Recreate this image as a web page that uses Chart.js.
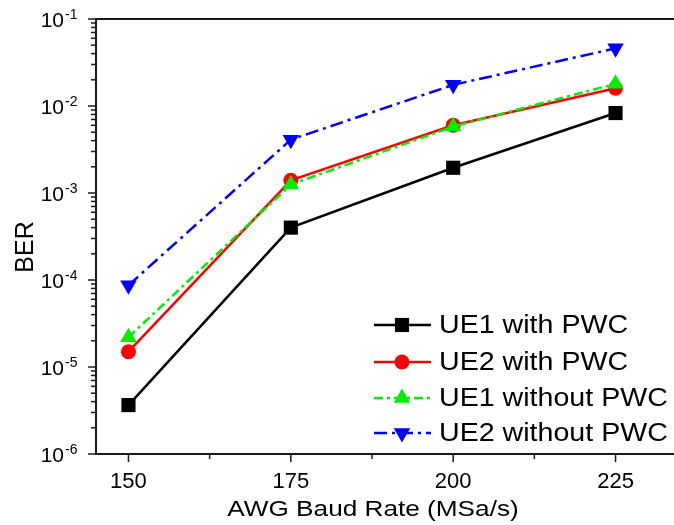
<!DOCTYPE html>
<html>
<head>
<meta charset="utf-8">
<script src="https://cdn.jsdelivr.net/npm/chart.js@4/dist/chart.umd.min.js"></script>
<style>
  html, body { margin: 0; padding: 0; background: #fff; }
</style>
</head>
<body>
<canvas id="berChart" width="674" height="525"></canvas>
<script>
// AWG baud rate (MSa/s) and BER values
const baudRates = [150, 175, 200, 225];
const ue1WithPwc = [3.65e-6, 4.0e-4, 1.95e-3, 8.3e-3];
const ue2WithPwc = [1.5e-5, 1.4e-3, 6.0e-3, 1.6e-2];
const ue1WithoutPwc = [2.2e-5, 1.25e-3, 5.8e-3, 1.8e-2];
const ue2WithoutPwc = [8.7e-5, 4.1e-3, 1.75e-2, 4.6e-2];
const seriesNames = ["UE1 with PWC", "UE2 with PWC", "UE1 without PWC", "UE2 without PWC"];
const xTickValues = [150, 175, 200, 225];
const xMinorValues = [162.5, 187.5, 212.5];
const yExponents = [-6, -5, -4, -3, -2, -1];

const FONT = '"Liberation Sans", Arial, Helvetica, sans-serif';
const AXIS = "#1a1a1a";

function pts(values) {
    return values.map((v, i) => ({ x: baudRates[i], y: v }));
}

const datasets = [
    { label: seriesNames[0], data: pts(ue1WithPwc), borderColor: "#000000", backgroundColor: "#000000",
      pointStyle: "rect", pointRadius: 10, borderDash: [], order: 4 },
    { label: seriesNames[1], data: pts(ue2WithPwc), borderColor: "#ff0000", backgroundColor: "#ff0000",
      pointStyle: "circle", pointRadius: 7.5, borderDash: [], order: 3 },
    { label: seriesNames[2], data: pts(ue1WithoutPwc), borderColor: "#00ee00", backgroundColor: "#00ee00",
      pointStyle: "triangle", pointRadius: 9.5, borderDash: [9, 4, 3, 4], order: 2 },
    { label: seriesNames[3], data: pts(ue2WithoutPwc), borderColor: "#0000ff", backgroundColor: "#0000ff",
      pointStyle: "triangle", pointRotation: 180, pointRadius: 9.5, borderDash: [13, 5, 3, 5], order: 1 }
].map(d => Object.assign({ borderWidth: 2.5, pointBorderWidth: 0, pointHoverRadius: d.pointRadius, tension: 0, clip: false }, d));

function drawMarker(ctx, style, x, y, r, rot) {
    ctx.beginPath();
    if (style === "rect") {
        const s = Math.SQRT1_2 * r;
        ctx.rect(x - s, y - s, 2 * s, 2 * s);
    } else if (style === "circle") {
        ctx.arc(x, y, r, 0, Math.PI * 2);
    } else {
        let a = (rot || 0) * Math.PI / 180;
        ctx.moveTo(x + Math.sin(a) * r, y - Math.cos(a) * r);
        a += 2 * Math.PI / 3;
        ctx.lineTo(x + Math.sin(a) * r, y - Math.cos(a) * r);
        a += 2 * Math.PI / 3;
        ctx.lineTo(x + Math.sin(a) * r, y - Math.cos(a) * r);
        ctx.closePath();
    }
    ctx.fill();
}

function scaledText(ctx, text, x, y, sx, align) {
    ctx.save();
    ctx.translate(x, y);
    ctx.scale(sx, 1);
    ctx.textAlign = align;
    ctx.fillText(text, 0, 0);
    ctx.restore();
}

const decorations = {
    id: "decorations",
    afterDraw(chart) {
        const { ctx, chartArea: area, scales: { x, y } } = chart;
        ctx.save();
        ctx.strokeStyle = AXIS;
        ctx.fillStyle = "#000";
        ctx.lineWidth = 2;

        // top frame
        ctx.beginPath();
        ctx.moveTo(area.left - 1, area.top);
        ctx.lineTo(area.right, area.top);
        ctx.stroke();

        // y ticks and labels
        ctx.lineWidth = 1.5;
        yExponents.forEach(p => {
            const py = y.getPixelForValue(Math.pow(10, p));
            ctx.beginPath();
            ctx.moveTo(area.left - 8, py);
            ctx.lineTo(area.left, py);
            ctx.stroke();
            if (p < -1) {
                for (let m = 2; m <= 9; m++) {
                    const my = y.getPixelForValue(m * Math.pow(10, p));
                    ctx.beginPath();
                    ctx.moveTo(area.left - 5, my);
                    ctx.lineTo(area.left, my);
                    ctx.stroke();
                }
            }
            ctx.textBaseline = "alphabetic";
            ctx.font = "21px " + FONT;
            ctx.textAlign = "right";
            ctx.fillText("10", 64, py + 7.5);
            ctx.font = "14px " + FONT;
            ctx.textAlign = "left";
            ctx.fillText(String(p), 65, py - 0.5);
        });

        // x ticks and labels
        xTickValues.forEach(v => {
            const px = x.getPixelForValue(v);
            ctx.beginPath();
            ctx.moveTo(px, area.bottom);
            ctx.lineTo(px, area.bottom + 8);
            ctx.stroke();
            ctx.font = "22px " + FONT;
            ctx.textAlign = "center";
            ctx.textBaseline = "alphabetic";
            ctx.fillText(String(v), px, 488);
        });
        xMinorValues.forEach(v => {
            const px = x.getPixelForValue(v);
            ctx.beginPath();
            ctx.moveTo(px, area.bottom);
            ctx.lineTo(px, area.bottom + 5);
            ctx.stroke();
        });

        // axis titles
        ctx.font = "22px " + FONT;
        ctx.textBaseline = "alphabetic";
        scaledText(ctx, "AWG Baud Rate (MSa/s)", 373, 516, 1.19, "center");
        ctx.save();
        ctx.translate(33, 247);
        ctx.rotate(-Math.PI / 2);
        ctx.font = "25px " + FONT;
        ctx.textAlign = "center";
        ctx.fillText("BER", 0, 0);
        ctx.restore();

        // legend
        const rows = [325, 362, 398, 433];
        chart.data.datasets.forEach((d, i) => {
            const ly = rows[i];
            ctx.strokeStyle = d.borderColor;
            ctx.lineWidth = 2.5;
            ctx.setLineDash(d.borderDash);
            ctx.beginPath();
            ctx.moveTo(374, ly);
            ctx.lineTo(431, ly);
            ctx.stroke();
            ctx.setLineDash([]);
            ctx.fillStyle = d.backgroundColor;
            drawMarker(ctx, d.pointStyle, 402, ly, d.pointRadius, d.pointRotation);
            ctx.fillStyle = "#000";
            ctx.font = "26px " + FONT;
            ctx.textBaseline = "middle";
            scaledText(ctx, d.label, 439, ly + 1, 1.1, "left");
        });
        ctx.restore();
    }
};

new Chart(document.getElementById("berChart").getContext("2d"), {
    type: "line",
    data: { datasets },
    options: {
        responsive: false,
        animation: false,
        events: [],
        layout: { autoPadding: false, padding: { top: 19, right: 0, left: 0, bottom: 0 } },
        plugins: { legend: { display: false }, tooltip: { enabled: false } },
        scales: {
            x: {
                type: "linear", min: 145, max: 234,
                grid: { display: false, drawTicks: false },
                ticks: { display: false },
                border: { display: true, color: AXIS, width: 2 },
                afterFit: s => { s.height = 71; }
            },
            y: {
                type: "logarithmic", min: 1e-6, max: 1e-1,
                grid: { display: false, drawTicks: false },
                ticks: { display: false },
                border: { display: true, color: AXIS, width: 2 },
                afterFit: s => { s.width = 96; }
            }
        }
    },
    plugins: [decorations]
});
</script>
</body>
</html>
